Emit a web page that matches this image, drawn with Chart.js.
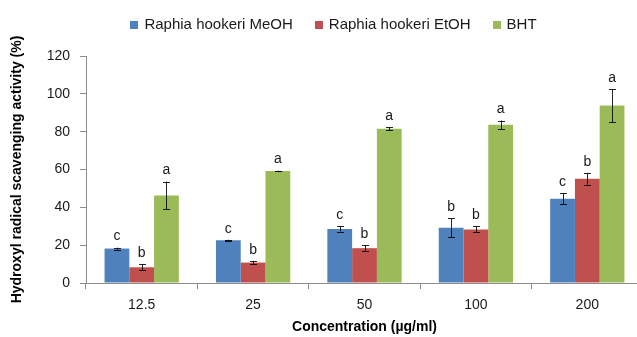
<!DOCTYPE html>
<html>
<head>
<meta charset="utf-8">
<script src="https://cdn.jsdelivr.net/npm/chart.js@4"></script>
<style>
  html, body { margin: 0; padding: 0; background: #fff; overflow: hidden; }
  #wrap { position: relative; width: 643px; height: 337px; }
</style>
</head>
<body>
<div id="wrap"><canvas id="c"></canvas></div>
<script>
const categories = ['12.5', '25', '50', '100', '200'];
const seriesNames = ['Raphia hookeri MeOH', 'Raphia hookeri EtOH', 'BHT'];
const meoh = [18.2, 22.6, 28.6, 29.2, 44.5];
const meohErr = [0.5, 0.3, 1.4, 5.0, 3.0];
const etoh = [8.3, 10.8, 18.4, 28.3, 55.1];
const etohErr = [1.6, 0.9, 1.7, 1.6, 3.1];
const bht = [46.3, 59.2, 81.5, 83.6, 93.8];
const bhtErr = [7.3, 0.2, 0.8, 2.3, 8.7];
const meohLetters = ['c', 'c', 'c', 'b', 'c'];
const etohLetters = ['b', 'b', 'b', 'b', 'b'];
const bhtLetters = ['a', 'a', 'a', 'a', 'a'];
const yTicks = [0, 20, 40, 60, 80, 100, 120];

const colors = ['#4F81BD', '#C0504D', '#9BBB59'];
const errs = [meohErr, etohErr, bhtErr];
const letters = [meohLetters, etohLetters, bhtLetters];

Chart.defaults.font.family = "'Liberation Sans', Arial, sans-serif";
Chart.defaults.color = '#1a1a1a';

const errorBarPlugin = {
  id: 'errorBars',
  afterDatasetsDraw(chart) {
    const ctx = chart.ctx;
    const y = chart.scales.y;
    ctx.save();
    chart.data.datasets.forEach((ds, i) => {
      const meta = chart.getDatasetMeta(i);
      meta.data.forEach((bar, j) => {
        const v = ds.data[j], e = errs[i][j];
        const yTop = y.getPixelForValue(v + e);
        const yBot = y.getPixelForValue(v - e);
        const x = Math.round(bar.x) + 0.5;
        ctx.strokeStyle = 'rgba(0,0,0,0.85)';
        ctx.lineWidth = 1;
        ctx.beginPath();
        ctx.moveTo(x, yTop); ctx.lineTo(x, yBot);
        ctx.moveTo(x - 3.5, Math.round(yTop) + 0.5); ctx.lineTo(x + 3.5, Math.round(yTop) + 0.5);
        ctx.moveTo(x - 3.5, Math.round(yBot) + 0.5); ctx.lineTo(x + 3.5, Math.round(yBot) + 0.5);
        ctx.stroke();
        ctx.fillStyle = '#1a1a1a';
        ctx.font = "14px 'Liberation Sans', Arial, sans-serif";
        ctx.textAlign = 'center';
        ctx.textBaseline = 'middle';
        ctx.fillText(letters[i][j], bar.x, yTop - 11);
      });
    });
    ctx.restore();
  }
};

const customLegend = {
  id: 'customLegend',
  afterDraw(chart) {
    const ctx = chart.ctx;
    ctx.save();
    ctx.font = "15px 'Liberation Sans', Arial, sans-serif";
    const box = 8, textGap = 6, itemGap = 22;
    const items = chart.data.datasets.map(ds => ({
      label: ds.label, color: ds.backgroundColor, w: box + textGap + ctx.measureText(ds.label).width
    }));
    const total = items.reduce((s, it) => s + it.w, 0) + itemGap * (items.length - 1);
    let x = 333.5 - total / 2;
    const cy = 24.5;
    items.forEach(it => {
      ctx.fillStyle = it.color;
      ctx.fillRect(Math.round(x), Math.round(cy - box / 2), box, box);
      ctx.fillStyle = '#1a1a1a';
      ctx.textAlign = 'left';
      ctx.textBaseline = 'middle';
      ctx.fillText(it.label, x + box + textGap, cy);
      x += it.w + itemGap;
    });
    ctx.restore();
  }
};

new Chart(document.getElementById('c'), {
  type: 'bar',
  data: {
    labels: categories,
    datasets: [
      { label: seriesNames[0], data: meoh, backgroundColor: colors[0] },
      { label: seriesNames[1], data: etoh, backgroundColor: colors[1] },
      { label: seriesNames[2], data: bht, backgroundColor: colors[2] }
    ]
  },
  options: {
    responsive: true,
    maintainAspectRatio: false,
    devicePixelRatio: 1,
    animation: false,
    layout: { padding: { top: 56, left: 0, right: 0, bottom: 0 } },
    datasets: { bar: { categoryPercentage: 0.667, barPercentage: 1.0 } },
    plugins: { legend: { display: false }, tooltip: { enabled: false } },
    scales: {
      x: {
        grid: { drawOnChartArea: false, drawTicks: true, tickLength: 6, color: '#8c8c8c', offset: true },
        border: { color: '#8c8c8c' },
        ticks: { font: { size: 14 }, padding: 8, color: '#1a1a1a' },
        title: { display: true, text: 'Concentration (µg/ml)', font: { size: 14, weight: 'bold' }, color: '#000', padding: { top: 0, bottom: 1 } },
        afterFit(scale) { scale.height = 54; }
      },
      y: {
        min: 0, max: 120,
        afterBuildTicks(scale) { scale.ticks = yTicks.map(v => ({ value: v })); },
        grid: { drawOnChartArea: false, drawTicks: true, tickLength: 6, color: '#8c8c8c' },
        border: { color: '#8c8c8c' },
        ticks: { font: { size: 14 }, padding: 10, color: '#1a1a1a' },
        title: { display: true, text: 'Hydroxyl radical scavenging activity (%)', font: { size: 14, weight: 'bold' }, color: '#000', padding: { top: 9, bottom: 0 } },
        afterFit(scale) { scale.width = 86; }
      }
    }
  },
  plugins: [errorBarPlugin, customLegend]
});
</script>
</body>
</html>
